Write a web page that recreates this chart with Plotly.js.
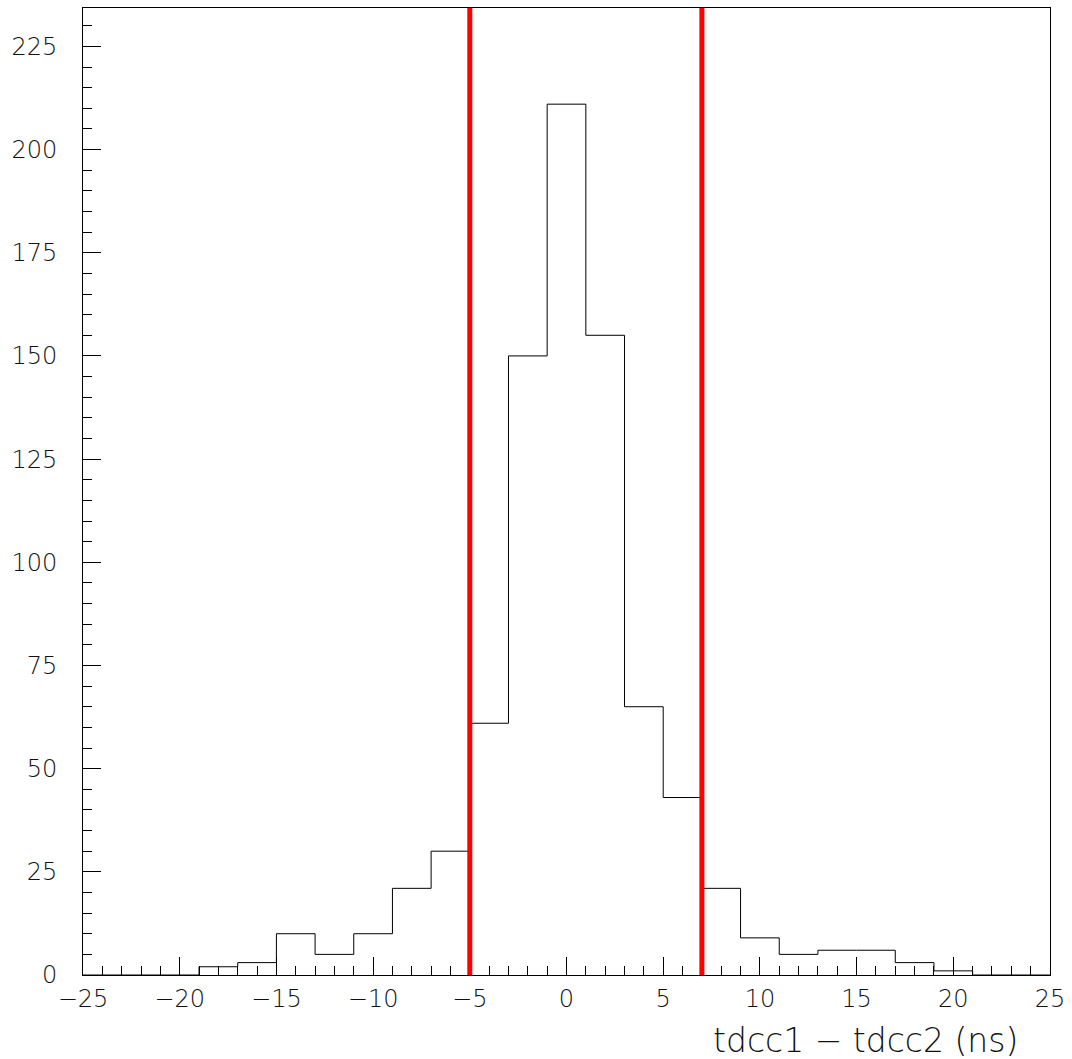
<!DOCTYPE html>
<html>
<head>
<meta charset="utf-8">
<script src="https://cdn.plot.ly/plotly-3.0.1.min.js"></script>
<style>html,body{margin:0;padding:0;background:#fff;}#chart{width:1072px;height:1059px;}</style>
</head>
<body>
<div id="chart"></div>
<script>
// Histogram of tdcc1 - tdcc2 (ns), 2 ns bins from -25 to 25
const binLowEdges = [-25,-23,-21,-19,-17,-15,-13,-11,-9,-7,-5,-3,-1,1,3,5,7,9,11,13,15,17,19,21,23];
const binUpEdge = 25;
const counts = [0,0,0,2,3,10,5,10,21,30,61,150,211,155,65,43,21,9,5,6,6,3,1,0,0];
const cutLines = [-5, 7];
const xTitle = 'tdcc1 \u2212 tdcc2 (ns)';

const stepX = binLowEdges.concat([binUpEdge]);
const stepY = counts.concat([counts[counts.length - 1]]);

const traces = [{
  type: 'scatter',
  mode: 'lines',
  x: stepX,
  y: stepY,
  line: {shape: 'hv', color: '#000', width: 1},
  hoverinfo: 'x+y',
  showlegend: false
}];

const tickFont = {family: 'DejaVu Sans, Verdana, sans-serif', size: 24, color: '#111', weight: 200};

const layout = {
  width: 1072,
  height: 1059,
  margin: {l: 83, r: 22, t: 8, b: 84},
  paper_bgcolor: '#fff',
  plot_bgcolor: '#fff',
  showlegend: false,
  xaxis: {
    range: [-25, 25],
    tick0: -25, dtick: 5,
    ticks: 'inside', ticklen: 18, tickwidth: 1, tickcolor: '#000',
    minor: {dtick: 1, ticks: 'inside', ticklen: 9, tickwidth: 1, tickcolor: '#000', showgrid: false},
    showgrid: false, zeroline: false,
    showline: true, linecolor: '#000', linewidth: 1, mirror: true,
    tickfont: tickFont,
    ticklabelstandoff: 2
  },
  yaxis: {
    range: [0, 234.3],
    tick0: 0, dtick: 25,
    ticks: 'inside', ticklen: 18, tickwidth: 1, tickcolor: '#000',
    minor: {dtick: 5, ticks: 'inside', ticklen: 9, tickwidth: 1, tickcolor: '#000', showgrid: false},
    showgrid: false, zeroline: false,
    showline: true, linecolor: '#000', linewidth: 1, mirror: true,
    tickfont: tickFont,
    ticklabelstandoff: 20
  },
  shapes: cutLines.map(v => ({
    type: 'line', xref: 'x', yref: 'paper',
    x0: v, x1: v, y0: 0, y1: 1,
    line: {color: '#ff0000', width: 5}
  })),
  annotations: [{
    text: xTitle,
    xref: 'paper', yref: 'paper',
    x: 1, y: 0,
    xanchor: 'right', yanchor: 'middle',
    xshift: -30, yshift: -65,
    showarrow: false,
    font: {family: 'DejaVu Sans, Verdana, sans-serif', size: 33, color: '#111', weight: 200}
  }]
};

Plotly.newPlot('chart', traces, layout, {displayModeBar: false, staticPlot: true});
</script>
</body>
</html>
